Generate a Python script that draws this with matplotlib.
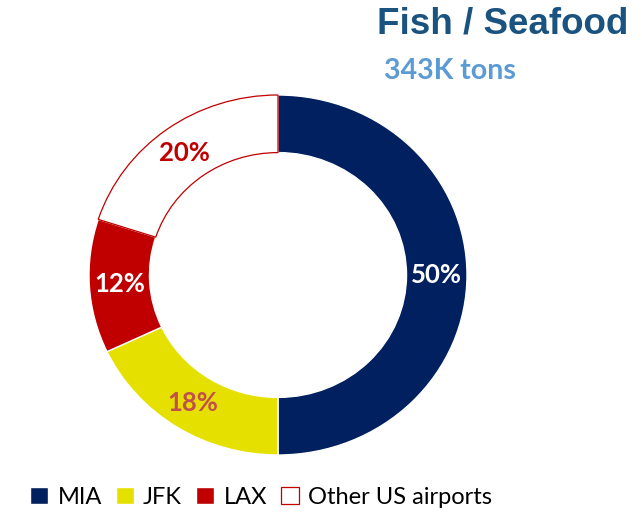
import numpy as np
import matplotlib
matplotlib.use("Agg")
import matplotlib.pyplot as plt

# datos del grafico
airports = ["MIA", "JFK", "LAX", "Other US airports"]
shares = [50, 18, 12, 20]
fills = ["#002060", "#E6E000", "#C00000", "white"]
edges = ["white", "white", "white", "#C00000"]
label_colors = ["white", "#C0504D", "white", "#C00000"]
title = "Fish / Seafood"
subtitle = "343K tons"

fig = plt.figure(figsize=(6.42, 5.13), dpi=100)

# ejes del donut (ligeramente eliptico como en la referencia)
ax = fig.add_axes([89/642, (513-455)/513, 378/642, 360/513])
wedges, _ = ax.pie(shares, startangle=90, counterclock=False, radius=1,
                   colors=fills,
                   wedgeprops=dict(width=0.32, linewidth=1))
for w, ec in zip(wedges, edges):
    w.set_edgecolor(ec)
    if ec != "white":
        w.set_linewidth(0.9)
ax.set_aspect("auto")
ax.set_xlim(-1, 1)
ax.set_ylim(-1, 1)

# etiquetas de porcentaje en el centro de cada anillo
start = 90.0
for val, col in zip(shares, label_colors):
    mid = np.deg2rad(start - val / sum(shares) * 360 / 2)
    start -= val / sum(shares) * 360
    ax.text(0.84*np.cos(mid), 0.84*np.sin(mid), "{}%".format(val),
            ha="center", va="center", color=col, fontsize=18.5,
            fontweight="bold", family="Lato")

fig.text(628/642, 1 - 24/513, title, ha="right", va="center",
         fontsize=26.5, fontweight="bold", color="#1B5380",
         family="Liberation Sans")
fig.text(384/642, 1 - 71/513, subtitle, ha="left", va="center",
         fontsize=20.5, fontweight="bold", color="#5B9BD5", family="Lato")

fig.legend(wedges, airports, ncol=4, loc="center", bbox_to_anchor=(0.407, 1 - 497/513),
           frameon=False, handlelength=0.75, handleheight=0.75,
           handletextpad=0.4, columnspacing=0.6,
           prop=dict(family="Lato", size=17))

fig.savefig("out.png", dpi=100)
